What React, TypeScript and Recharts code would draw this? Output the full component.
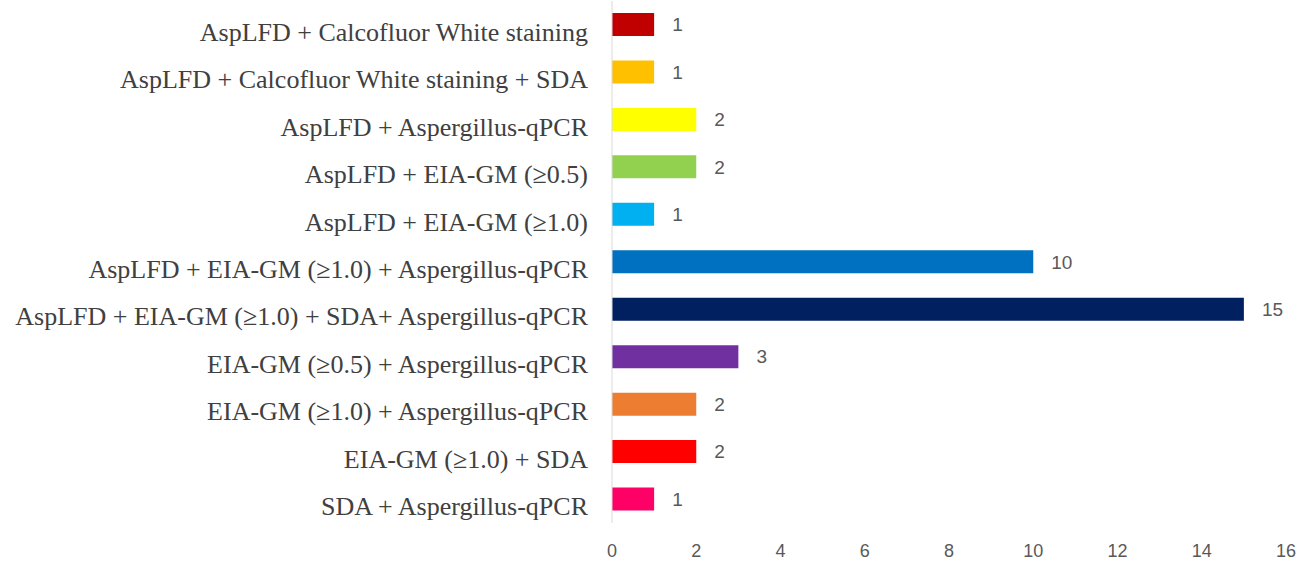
import React from "react";
import { BarChart, Bar, XAxis, YAxis, Cell, LabelList } from "recharts";

const categories = [
  "AspLFD + Calcofluor White staining",
  "AspLFD + Calcofluor White staining + SDA",
  "AspLFD + Aspergillus-qPCR",
  "AspLFD + EIA-GM (\u22650.5)",
  "AspLFD + EIA-GM (\u22651.0)",
  "AspLFD + EIA-GM (\u22651.0) + Aspergillus-qPCR",
  "AspLFD + EIA-GM (\u22651.0) + SDA+ Aspergillus-qPCR",
  "EIA-GM (\u22650.5) + Aspergillus-qPCR",
  "EIA-GM (\u22651.0) + Aspergillus-qPCR",
  "EIA-GM (\u22651.0) + SDA",
  "SDA + Aspergillus-qPCR",
];

const values = [1, 1, 2, 2, 1, 10, 15, 3, 2, 2, 1];

const barColors = [
  "#C00000",
  "#FFC000",
  "#FFFF00",
  "#92D050",
  "#00B0F0",
  "#0070C0",
  "#002060",
  "#7030A0",
  "#ED7D31",
  "#FF0000",
  "#FF0066",
];

const xTicks = [0, 2, 4, 6, 8, 10, 12, 14, 16];

const data = categories.map((name, i) => ({ name, value: values[i] }));

const CategoryTick = (props: any) => {
  const { x, y, payload } = props;
  return (
    <text
      x={x}
      y={y}
      dy={16}
      textAnchor="end"
      fill="#404040"
      fontSize={26}
      fontFamily="'Liberation Serif', 'Times New Roman', serif"
    >
      {payload.value}
    </text>
  );
};

export default function App() {
  return (
    <div style={{ position: "absolute", left: 0, top: 0, background: "#fff" }}>
      <BarChart
        width={1308}
        height={562}
        data={data}
        layout="vertical"
        margin={{ top: 1, right: 22, bottom: 0, left: 0 }}
        barSize={23}
      >
        <XAxis
          type="number"
          domain={[0, 16]}
          ticks={xTicks}
          axisLine={false}
          tickLine={false}
          tickSize={0}
          tickMargin={21.5}
          height={39}
          interval={0}
          tick={{ fill: "#595959", fontSize: 18, fontFamily: "'Liberation Sans', Arial, sans-serif" }}
        />
        <YAxis
          type="category"
          dataKey="name"
          width={612}
          axisLine={{ stroke: "#D9D9D9", strokeWidth: 1 }}
          tickLine={false}
          tickSize={0}
          tickMargin={24}
          interval={0}
          tick={<CategoryTick />}
        />
        <Bar dataKey="value" isAnimationActive={false}>
          {data.map((d, i) => (
            <Cell key={d.name} fill={barColors[i]} />
          ))}
          <LabelList
            dataKey="value"
            position="right"
            offset={18}
            style={{ fill: "#595959", fontSize: 19, fontFamily: "'Liberation Sans', Arial, sans-serif" }}
          />
        </Bar>
      </BarChart>
    </div>
  );
}
